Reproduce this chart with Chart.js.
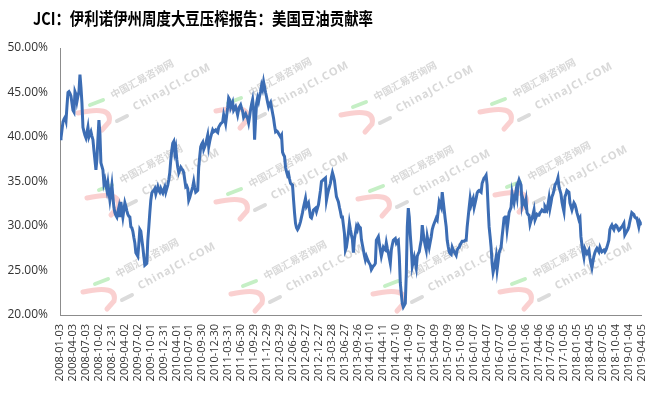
<!DOCTYPE html>
<html>
<head>
<meta charset="utf-8">
<script src="https://cdn.jsdelivr.net/npm/chart.js@4.4.1/dist/chart.umd.min.js"></script>
<style>
  html, body { margin: 0; padding: 0; background: #ffffff; }
  #wrap { width: 664px; height: 400px; position: relative; }
</style>
</head>
<body>
<div id="wrap"><canvas id="c" width="664" height="400"></canvas></div>
<script>
const chartTitle = 'JCI：伊利诺伊州周度大豆压榨报告：美国豆油贡献率';
const watermarkCn = '中国汇易咨询网';
const watermarkEn = 'ChinaJCI.COM';

const tickLabels = [
  '2008-01-03','2008-04-03','2008-07-03','2008-10-02','2008-12-31',
  '2009-04-02','2009-07-02','2009-10-01','2009-12-31',
  '2010-04-01','2010-07-01','2010-09-30','2010-12-30',
  '2011-03-31','2011-06-30','2011-09-29','2011-12-29',
  '2012-03-29','2012-06-29','2012-09-27','2012-12-27',
  '2013-03-28','2013-06-27','2013-09-26','2014-01-10',
  '2014-04-11','2014-07-10','2014-10-09','2015-01-07',
  '2015-04-09','2015-07-09','2015-10-08','2016-01-07',
  '2016-04-07','2016-07-07','2016-10-06','2017-01-06',
  '2017-04-06','2017-07-06','2017-10-05','2018-01-05',
  '2018-04-05','2018-07-05','2018-10-04','2019-01-04','2019-04-05'
];

const yTicks = [20, 25, 30, 35, 40, 45, 50];

// weekly US soybean oil share of crush value (%)
const share2008 = [39.8,
  39.9,40.8,41.7,42.0,42.2,41.8,43.5,45.0,45.1,44.9,
  44.6,43.8,43.0,42.8,45.1,44.8,44.0,44.6,45.1,47.0,
  45.6,43.8,41.1,40.6,40.2,39.9,40.5,41.1,40.0,40.3,
  40.6,40.1,39.7,38.5,37.4,36.3,37.5,39.8,41.9,40.4,
  37.1,36.7,36.3,34.8,35.2,34.6,34.0,34.8,33.8,32.9,
  33.7,34.6,33.3];
const share2009 = [
  32.1,31.5,31.2,31.0,31.6,32.1,31.0,
  32.7,31.8,31.0,31.8,32.6,32.2,31.7,31.3,31.1,31.0,
  29.9,29.8,29.4,28.7,28.1,27.0,26.8,26.6,28.0,29.6,
  29.4,28.5,27.6,26.6,25.6,25.7,25.8,28.4,29.9,31.5,
  32.9,33.7,33.9,34.0,34.2,33.6,34.0,34.4,34.0,33.8,
  34.2,33.9,33.7,34.1,34.4,33.8,34.2,34.6,35.2,36.0,
  37.4,38.5,39.3];
const share2010 = [
  39.5,38.3,38.8,37.5,36.6,36.0,36.3,
  36.6,36.4,36.3,36.0,35.2,34.4,34.5,34.2,32.9,33.2,
  33.6,34.0,34.4,35.0,34.3,33.8,33.9,34.0,36.6,37.8,
  38.9,39.2,39.4,38.6,38.9,39.2,39.7,40.2,38.9,39.5,
  40.0,40.4,40.8,40.6,40.7,40.8,40.6,40.5,41.1,41.3,
  41.5,41.6,41.7,42.5,42.0,41.5,42.4,43.3];
const share2011 = [
  44.4,44.2,
  43.3,43.6,43.9,43.0,43.2,43.4,43.0,42.5,43.1,43.4,
  43.6,43.2,42.9,42.2,42.4,42.6,42.3,42.1,41.6,42.3,
  43.1,43.7,44.2,43.1,39.7,42.0,43.8,44.4,44.0,44.6,
  45.1,45.8,45.4,46.2,45.6,45.0,44.5,43.9,43.4,43.7,
  43.9,43.3,42.7,42.1,41.3,40.6,40.7,40.6,40.4,40.2,
  40.0,40.2,38.3];
const share2012 = [
  38.0,37.8,36.6,36.1,35.7,35.9,35.3,
  34.8,34.7,34.6,33.0,31.5,30.3,29.8,29.6,29.8,30.1,
  30.5,31.0,31.5,32.1,32.6,33.1,32.2,32.4,32.6,31.8,
  31.0,30.9,31.3,31.8,31.9,32.0,31.6,32.0,32.4,33.2,
  34.0,35.0,35.1,35.2,35.3,35.4,32.9,33.5,34.0,34.4,
  34.8,35.5,36.0];
const share2013 = [
  35.6,35.1,34.2,33.3,33.0,32.7,32.1,
  31.6,31.0,31.0,30.1,29.2,27.3,27.6,28.4,29.2,30.3,
  29.6,29.0,28.5,27.0,28.5,29.2,29.9,29.6,30.1,29.9,
  29.8,28.5,27.9,27.3,26.7,26.2,26.6,26.3,26.0,25.8,
  25.6,25.1,25.3,25.5,25.6,25.8,28.4,28.6,28.8];
const share2014 = [
  28.0,
  27.3,26.6,27.1,27.6,27.4,27.3,28.1,27.5,27.0,26.4,
  25.8,27.3,27.9,28.4,28.5,28.6,28.1,28.3,28.4,26.6,
  23.6,22.4,21.3,20.9,21.1,21.3,24.6,29.9,32.0,31.0,
  29.0,27.5,25.5,26.0,26.5,25.9,25.3,26.6,26.9,27.1,
  27.8,28.4,30.1,29.2,28.4,27.8,27.3,28.8,28.2,27.6];
const share2015 = [
  28.2,28.8,29.6,30.0,30.3,30.6,30.9,30.7,31.7,32.7,
  32.4,32.1,33.8,32.8,31.8,30.8,29.9,28.4,27.7,27.1,
  26.9,26.8,27.6,27.3,27.1,26.9,26.7,27.3,27.5,27.6,
  27.9,28.1,28.3,28.3,28.3,28.4,28.4,29.9,31.0,32.1,
  33.1,32.4,32.8,33.1,32.1,32.6,33.1,33.7,33.9,34.0];
const share2016 = [
  33.9,33.8,34.8,35.1,35.4,35.5,35.7,34.6,32.1,29.9,
  28.8,27.6,25.8,24.8,25.3,25.8,26.5,25.1,26.0,27.0,
  27.3,27.6,28.8,29.8,30.9,31.0,31.0,29.6,30.5,31.5,
  31.8,32.1,33.7,33.1,32.6,33.3,34.0,33.3,34.8,35.2,
  34.9,34.6,32.4,33.0,32.6,32.3,32.9,31.5,31.3,31.2];
const share2017 = [
  30.2,30.6,30.9,31.3,31.8,30.7,31.0,31.3,31.2,31.2,
  31.5,31.6,31.8,31.7,31.6,32.2,32.0,31.8,32.4,33.1,
  32.0,32.6,33.3,33.6,34.0,34.6,34.8,35.0,35.4,34.4,
  34.0,33.6,32.7,32.1,31.6,33.3,33.6,34.0,33.9,33.8,
  32.6,32.2,31.8,32.2,32.6,32.4,32.0,31.5,31.1,30.7];
const share2018 = [
  30.9,28.8,27.9,27.1,26.5,27.4,27.1,26.9,27.1,27.3,
  26.4,25.8,25.3,26.0,26.6,27.0,27.3,27.5,27.3,27.1,
  27.6,27.3,27.1,27.2,27.3,27.1,27.3,27.6,28.0,28.4,
  29.6,29.9,30.1,29.8,29.6,30.0,30.1,30.0,29.7,29.5,
  29.6,29.8,29.9,30.1,30.3,29.0,29.2,29.4,29.6,29.9];
const share2019 = [
  30.5,31.0,31.5,31.4,31.3,31.0,30.9,30.9,30.4,29.9,
  30.5,30.3,30.1];

const shareValues = [].concat(share2008, share2009, share2010, share2011, share2012,
  share2013, share2014, share2015, share2016, share2017, share2018, share2019);

const N = shareValues.length;
const points = shareValues.map((v, i) => ({ x: i, y: v }));

// faint background watermark stamps (logo anchor points in canvas pixels)
const stampSpots = [
  [95, 119], [233, 117], [358, 121], [497, 118],
  [104, 204], [233, 208], [375, 205], [512, 201],
  [100, 298], [248, 300], [390, 300], [517, 298]
];

function drawStamp(ctx, cx, cy) {
  ctx.save();
  ctx.lineCap = 'round';
  // red hook
  ctx.strokeStyle = 'rgba(245,170,170,0.55)';
  ctx.lineWidth = 5;
  ctx.beginPath();
  ctx.moveTo(cx - 17, cy - 6);
  ctx.quadraticCurveTo(cx + 18, cy - 14, cx + 14, cy + 3);
  ctx.lineTo(cx + 7, cy + 11);
  ctx.stroke();
  // green dash
  ctx.strokeStyle = 'rgba(150,225,150,0.55)';
  ctx.lineWidth = 4;
  ctx.beginPath();
  ctx.moveTo(cx - 5, cy - 14);
  ctx.lineTo(cx + 8, cy - 19);
  ctx.stroke();
  // grey dash
  ctx.strokeStyle = 'rgba(190,190,190,0.55)';
  ctx.beginPath();
  ctx.moveTo(cx + 22, cy + 2);
  ctx.lineTo(cx + 32, cy - 3);
  ctx.stroke();
  // texts
  ctx.fillStyle = 'rgba(190,190,190,0.6)';
  ctx.translate(cx + 18, cy - 20);
  ctx.rotate(-0.5);
  ctx.font = 'bold 10px "Noto Sans CJK SC"';
  ctx.textBaseline = 'alphabetic';
  ctx.fillText(watermarkCn, 0, 0);
  ctx.font = 'bold 11px "Open Sans"';
  if ('letterSpacing' in ctx) ctx.letterSpacing = '1px';
  ctx.fillText(watermarkEn, 14, 21);
  ctx.restore();
}

const watermarkPlugin = {
  id: 'watermark',
  beforeDatasetsDraw(chart) {
    const ctx = chart.ctx;
    stampSpots.forEach(([x, y]) => drawStamp(ctx, x, y));
  }
};

const titlePlugin = {
  id: 'titleText',
  afterDraw(chart) {
    const ctx = chart.ctx;
    ctx.save();
    ctx.fillStyle = '#000000';
    ctx.font = 'bold 17px "Noto Sans CJK SC"';
    ctx.textBaseline = 'middle';
    ctx.textAlign = 'left';
    ctx.fillText(chartTitle, 33, 19, 340);
    ctx.restore();
  }
};

Chart.defaults.font.family = "'Open Sans', sans-serif";
Chart.defaults.color = '#333333';

new Chart(document.getElementById('c'), {
  type: 'line',
  data: {
    datasets: [{
      data: points,
      borderColor: '#3c6db4',
      borderWidth: 3,
      pointRadius: 0,
      pointHoverRadius: 0,
      tension: 0,
      fill: false
    }]
  },
  options: {
    responsive: false,
    animation: false,
    events: [],
    layout: { padding: { top: 48, right: 21, left: 0, bottom: 0 } },
    plugins: {
      legend: { display: false },
      tooltip: { enabled: false },
      title: { display: false }
    },
    scales: {
      x: {
        type: 'linear',
        min: 0,
        max: N - 1,
        grid: { display: false, drawTicks: false },
        border: { display: true, color: '#8c8c8c', width: 1 },
        afterBuildTicks(axis) {
          axis.ticks = tickLabels.map((l, k) => ({ value: k * (N - 1) / (tickLabels.length - 1) }));
        },
        afterFit(axis) { axis.height = 85; },
        ticks: {
          autoSkip: false,
          maxRotation: 90,
          minRotation: 90,
          padding: 9,
          color: '#333333',
          font: { size: 11 },
          callback: (value, index) => tickLabels[index]
        }
      },
      y: {
        min: 20,
        max: 50,
        grid: { display: false, drawTicks: false },
        border: { display: true, color: '#8c8c8c', width: 1 },
        afterBuildTicks(axis) {
          axis.ticks = yTicks.map(v => ({ value: v }));
        },
        afterFit(axis) { axis.width = 60; },
        ticks: {
          padding: 12,
          color: '#333333',
          font: { size: 12 },
          callback: (v) => v.toFixed(2) + '%'
        }
      }
    }
  },
  plugins: [watermarkPlugin, titlePlugin]
});
</script>
</body>
</html>
